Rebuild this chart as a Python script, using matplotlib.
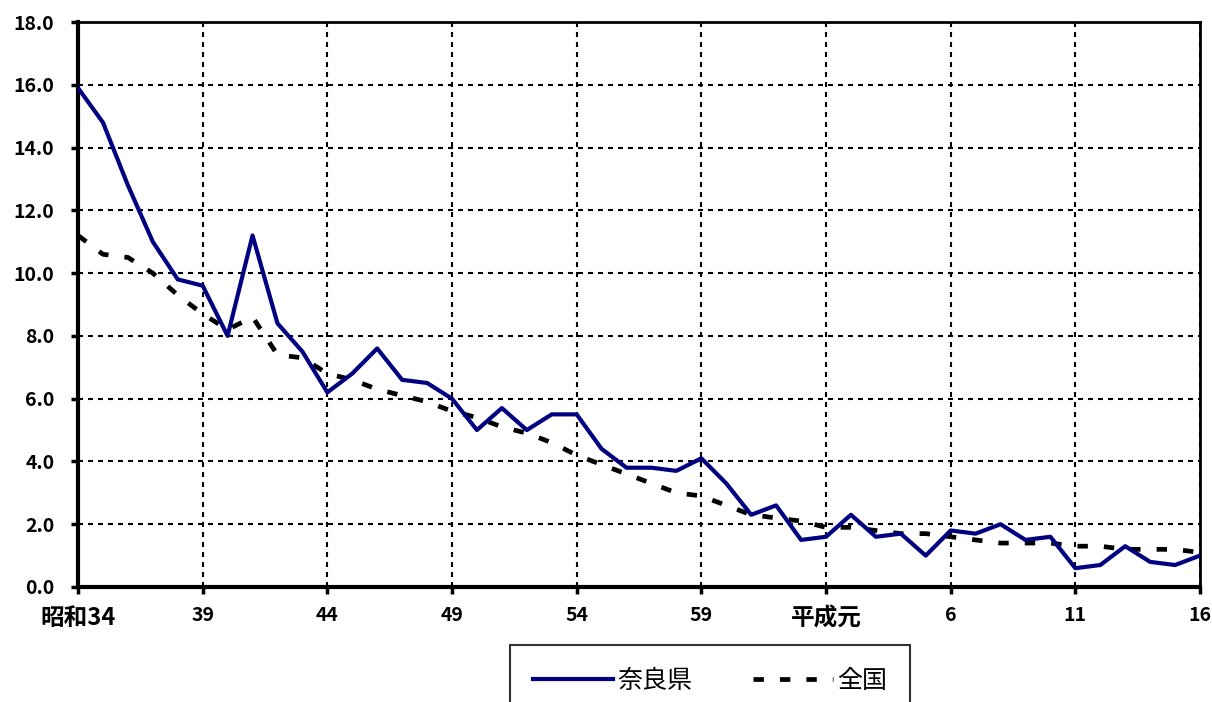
import matplotlib
matplotlib.use("Agg")
import matplotlib.pyplot as plt
import numpy as np

plt.rcParams["font.family"] = ["Noto Sans CJK JP", "DejaVu Sans"]

# 昭和34年 (1959) .. 平成16年 (2004)
years = list(range(1959, 2005))
nara = [15.9, 14.8, 12.8, 11.0, 9.8, 9.6, 8.0, 11.2, 8.4, 7.5,
        6.2, 6.8, 7.6, 6.6, 6.5, 6.0, 5.0, 5.7, 5.0, 5.5,
        5.5, 4.4, 3.8, 3.8, 3.7, 4.1, 3.3, 2.3, 2.6, 1.5,
        1.6, 2.3, 1.6, 1.7, 1.0, 1.8, 1.7, 2.0, 1.5, 1.6,
        0.6, 0.7, 1.3, 0.8, 0.7, 1.0]
zenkoku = [11.2, 10.6, 10.5, 10.0, 9.3, 8.7, 8.2, 8.6, 7.4, 7.3,
           6.8, 6.6, 6.3, 6.1, 5.9, 5.6, 5.4, 5.1, 4.9, 4.6,
           4.2, 3.9, 3.6, 3.3, 3.0, 2.9, 2.6, 2.3, 2.2, 2.1,
           1.9, 1.9, 1.8, 1.7, 1.7, 1.6, 1.5, 1.4, 1.4, 1.4,
           1.3, 1.3, 1.2, 1.2, 1.2, 1.1]
tick_years = [1959, 1964, 1969, 1974, 1979, 1984, 1989, 1994, 1999, 2004]
tick_labels = ["昭和34", "39", "44", "49", "54", "59", "平成元", "6", "11", "16"]
series_names = ["奈良県", "全国"]

fig = plt.figure(figsize=(12.12, 7.02), dpi=100)
ax = fig.add_axes([78 / 1212, 1 - 587 / 702, (1200 - 78) / 1212, (587 - 22) / 702])

ax.plot(years, nara, color="#000080", lw=3.0, label=series_names[0], zorder=4)
ax.plot(years, zenkoku, color="black", lw=3.4, linestyle=(0, (2.2, 3.4)),
        label=series_names[1], zorder=3)

ax.set_xlim(years[0], years[-1])
ax.set_ylim(0, 18)
ax.set_yticks(np.arange(0, 18.1, 2))
ax.set_yticklabels([f"{v:.1f}" for v in np.arange(0, 18.1, 2)])
ax.set_xticks(tick_years)
ax.set_xticklabels(tick_labels)

ax.grid(True, color="black", lw=1.5, linestyle=(0, (2.4, 2.4)))
ax.set_axisbelow(True)

for side in ["left", "bottom"]:
    ax.spines[side].set_linewidth(3)
for side in ["top", "right"]:
    ax.spines[side].set_linewidth(2)

ax.tick_params(axis="both", direction="out", length=5, width=2.5, colors="black")
ax.tick_params(axis="y", pad=12, labelsize=14)
ax.tick_params(axis="x", pad=9, labelsize=14)
for lab in ax.get_xticklabels() + ax.get_yticklabels():
    lab.set_fontweight("bold")
# the kanji labels are drawn larger in the original than the digits
for lab in ax.get_xticklabels():
    if not lab.get_text().isdigit():
        lab.set_fontsize(17)

leg = fig.legend(loc="upper center", bbox_to_anchor=(710 / 1212, 1 - 645 / 702),
                 ncol=2, fontsize=18, frameon=True, fancybox=False,
                 handlelength=3.2, handletextpad=0.2, columnspacing=2.4,
                 borderpad=0.9, borderaxespad=0)
leg.get_frame().set_edgecolor("black")
leg.get_frame().set_linewidth(1.5)

fig.savefig("out.png", dpi=100)
